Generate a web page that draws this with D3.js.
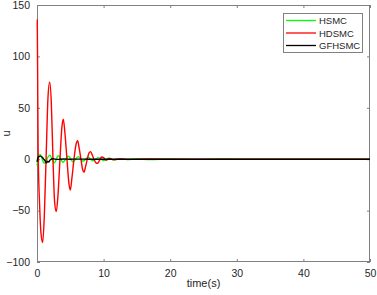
<!DOCTYPE html>
<html>
<head>
<meta charset="utf-8">
<script src="https://cdn.jsdelivr.net/npm/d3@7"></script>
<style>
  body { margin: 0; background: #fff; }
  text { font-family: "Liberation Sans", Arial, sans-serif; fill: #262626; }
</style>
</head>
<body>
<div id="chart"></div>
<script>
// series: [time, u]
var hsmc = [
  [0, -6], [0.45, 4.5], [1.1, -4], [1.9, 4], [2.6, -3.5], [3.2, 3.5], [3.9, -3],
  [4.7, 3], [5.4, -2.5], [6.2, 2.5], [6.9, -2], [7.7, 2], [8.4, -1.5], [9.2, 1.5],
  [10, -1.2], [10.8, 1], [11.6, -0.7], [12.5, 0.5], [13.5, -0.4], [15, 0.3],
  [17, -0.3], [20, 0.2], [24, -0.2], [28, 0.2], [33, -0.1], [38, 0.1], [44, -0.1], [50, 0]
];
var hdsmc = [
  [0.04, 136], [0.09, 90], [0.17, 9], [0.4, -46], [0.6, -72], [0.85, -81], [1.1, -55],
  [1.4, 9], [1.65, 60], [1.9, 75], [2.15, 55], [2.4, 0], [2.65, -42], [2.9, -51],
  [3.15, -35], [3.45, 0], [3.75, 32], [3.95, 39], [4.2, 25], [4.5, 0], [4.8, -24],
  [5.0, -30], [5.25, -18], [5.55, 0], [5.85, 14], [6.1, 18], [6.35, 10], [6.6, 0],
  [6.85, -10], [7.05, -12.6], [7.3, -7], [7.55, 0], [7.8, 6], [8.05, 7.4], [8.3, 4],
  [8.55, 0], [8.85, -3.5], [9.1, -4], [9.4, -1], [9.7, 2.2], [10, 1.5], [10.4, -1],
  [10.9, 0.8], [11.5, -0.5], [12.5, 0.3], [14, -0.2], [17, 0.15], [22, -0.1],
  [30, 0.1], [40, -0.1], [50, 0]
];
var gfhsmc = [
  [0, -2.5], [0.2, 2.2], [0.55, 3], [0.9, 1], [1.2, -1.5], [1.45, -3.5], [1.6, -2],
  [1.75, -2.8], [2.0, -0.5], [2.4, 0.4], [3.0, -0.2], [4, 0.2], [5, 0], [6, 0.1],
  [8, 0], [50, 0]
];
var seriesNames = ["HSMC", "HDSMC", "GFHSMC"];
var seriesColors = ["#00ff00", "#ff0000", "#000000"];
var xTicks = [0, 10, 20, 30, 40, 50];
var yTicks = [-100, -50, 0, 50, 100, 150];

var width = 377, height = 295;
var plot = {left: 37, right: 370, top: 5, bottom: 262};

var svg = d3.select('#chart').append('svg')
  .attr('width', width)
  .attr('height', height);

var x = d3.scaleLinear().domain([0, 50]).range([plot.left, plot.right]);
var y = d3.scaleLinear().domain([-100, 150]).range([plot.bottom, plot.top]);

svg.append('clipPath').attr('id', 'clip')
  .append('rect')
  .attr('x', plot.left - 1).attr('y', plot.top)
  .attr('width', plot.right - plot.left + 1).attr('height', plot.bottom - plot.top);

// axes, ticks inward, box on
var axisColor = '#808080';
var tickLen = 3;
function styleAxis(g) {
  g.select('.domain').remove();
  g.selectAll('.tick line').attr('stroke', axisColor);
  g.selectAll('.tick text')
    .style('font-family', '"Liberation Sans", Arial, sans-serif')
    .style('font-size', '10.5px')
    .attr('fill', '#262626');
}
svg.append('g')
  .attr('transform', 'translate(0,' + plot.bottom + ')')
  .call(d3.axisBottom(x).tickValues(xTicks).tickSizeInner(-tickLen).tickSizeOuter(0).tickPadding(8))
  .call(styleAxis);
svg.append('g')
  .attr('transform', 'translate(0,' + plot.top + ')')
  .call(d3.axisTop(x).tickValues(xTicks).tickSizeInner(-tickLen).tickSizeOuter(0).tickFormat(''))
  .call(styleAxis);
svg.append('g')
  .attr('transform', 'translate(' + plot.left + ',0)')
  .call(d3.axisLeft(y).tickValues(yTicks).tickSizeInner(-tickLen).tickSizeOuter(0).tickPadding(7))
  .call(styleAxis);
svg.append('g')
  .attr('transform', 'translate(' + plot.right + ',0)')
  .call(d3.axisRight(y).tickValues(yTicks).tickSizeInner(-tickLen).tickSizeOuter(0).tickFormat(''))
  .call(styleAxis);

svg.append('rect')
  .attr('x', plot.left + 0.5).attr('y', plot.top + 0.5)
  .attr('width', plot.right - plot.left - 1).attr('height', plot.bottom - plot.top - 1)
  .attr('fill', 'none')
  .attr('stroke', axisColor)
  .attr('stroke-width', 1);

var line = d3.line()
  .x(function(d) { return x(d[0]); })
  .y(function(d) { return y(d[1]); })
  .curve(d3.curveMonotoneX);

var lines = svg.append('g').attr('clip-path', 'url(#clip)');
[hsmc, hdsmc, gfhsmc].forEach(function(s, i) {
  lines.append('path')
    .datum(s)
    .attr('fill', 'none')
    .attr('stroke', seriesColors[i])
    .attr('stroke-width', 1.4)
    .attr('d', line);
});

// labels
svg.append('text')
  .attr('x', (plot.left + plot.right) / 2)
  .attr('y', 287)
  .attr('text-anchor', 'middle')
  .style('font-size', '11px')
  .text('time(s)');
svg.append('text')
  .attr('transform', 'translate(10,' + ((plot.top + plot.bottom) / 2) + ') rotate(-90)')
  .attr('text-anchor', 'middle')
  .style('font-size', '11px')
  .text('u');

// legend
var lg = svg.append('g').attr('transform', 'translate(283,13)');
lg.append('rect')
  .attr('x', 0.5).attr('y', 0.5)
  .attr('width', 79).attr('height', 39)
  .attr('fill', '#fff')
  .attr('stroke', axisColor);
seriesNames.forEach(function(name, i) {
  var yy = 7.5 + i * 12.5;
  lg.append('line')
    .attr('x1', 3).attr('x2', 33)
    .attr('y1', yy).attr('y2', yy)
    .attr('stroke', seriesColors[i])
    .attr('stroke-width', 1.3);
  lg.append('text')
    .attr('x', 36).attr('y', yy + 3.5)
    .style('font-size', '9.5px')
    .text(name);
});
</script>
</body>
</html>
